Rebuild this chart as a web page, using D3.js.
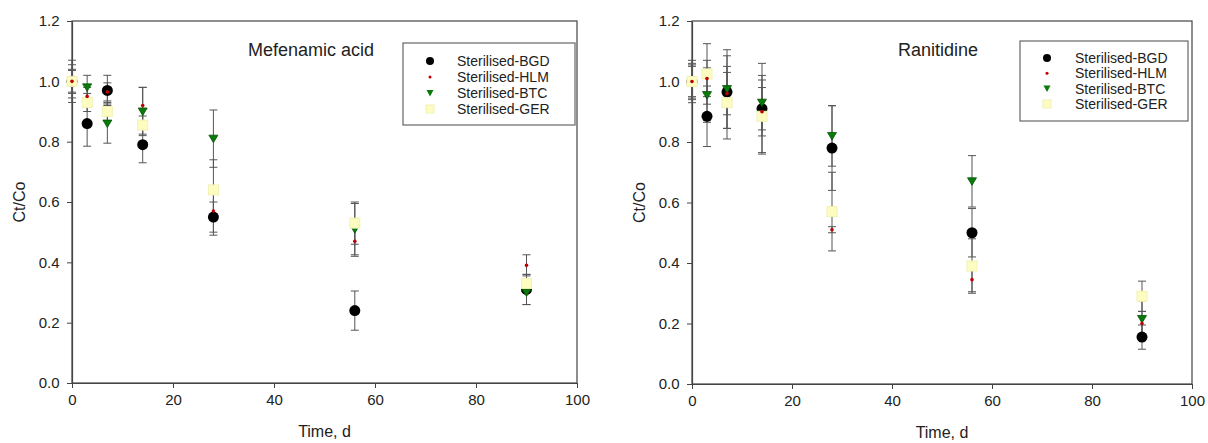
<!DOCTYPE html>
<html>
<head>
<meta charset="utf-8">
<script src="https://cdn.jsdelivr.net/npm/d3@7"></script>
<style>
  body { margin: 0; background: #fff; }
  text { font-family: "Liberation Sans", Arial, sans-serif; fill: #222; }
</style>
</head>
<body>
<script>
// sampling days
let times = [0, 3, 7, 14, 28, 56, 90];

// Mefenamic acid
let mefBGD = [1.0, 0.86, 0.97, 0.79, 0.55, 0.24, 0.31];
let mefBGDerr = [0.07, 0.075, 0.05, 0.06, 0.05, 0.065, 0.05];
let mefHLM = [1.0, 0.95, 0.965, 0.92, 0.57, 0.47, 0.39];
let mefHLMerr = [0.055, 0.03, 0.03, 0.06, 0.08, 0.05, 0.035];
let mefBTC = [1.0, 0.98, 0.86, 0.90, 0.81, 0.51, 0.30];
let mefBTCerr = [0.04, 0.04, 0.065, 0.08, 0.095, 0.085, 0.04];
let mefGER = [1.0, 0.93, 0.90, 0.855, 0.64, 0.53, 0.33];
let mefGERerr = [0.036, 0.03, 0.03, 0.03, 0.1, 0.07, 0.03];

// Ranitidine
let ranBGD = [1.0, 0.885, 0.965, 0.91, 0.78, 0.50, 0.155];
let ranBGDerr = [0.07, 0.1, 0.12, 0.15, 0.14, 0.08, 0.04];
let ranHLM = [1.0, 1.01, 0.96, 0.90, 0.51, 0.345, 0.20];
let ranHLMerr = [0.06, 0.06, 0.07, 0.08, 0.01, 0.04, 0.04];
let ranBTC = [1.0, 0.955, 0.975, 0.93, 0.82, 0.67, 0.215];
let ranBTCerr = [0.055, 0.09, 0.13, 0.09, 0.1, 0.085, 0.06];
let ranGER = [1.0, 1.025, 0.93, 0.885, 0.57, 0.39, 0.29];
let ranGERerr = [0.05, 0.1, 0.12, 0.12, 0.13, 0.09, 0.05];

let seriesNames = ["Sterilised-BGD", "Sterilised-HLM", "Sterilised-BTC", "Sterilised-GER"];
let xTicks = [0, 20, 40, 60, 80, 100];
let yTicks = [0.0, 0.2, 0.4, 0.6, 0.8, 1.0, 1.2];

let w = 1208, h = 443;
let svg = d3.select("body").append("svg").attr("width", w).attr("height", h);

// marker drawing for each series
function drawMarker(g, kind, x, y) {
  if (kind === 0) {
    g.append("circle").attr("cx", x).attr("cy", y).attr("r", 5.5).attr("fill", "#000");
  } else if (kind === 1) {
    g.append("circle").attr("cx", x).attr("cy", y).attr("r", 1.8).attr("fill", "#c00000");
  } else if (kind === 2) {
    g.append("path")
      .attr("d", "M" + (x - 4.5) + "," + (y - 3.5) + "L" + (x + 4.5) + "," + (y - 3.5) + "L" + x + "," + (y + 4) + "Z")
      .attr("fill", "#0a7a0a").attr("stroke", "#045204").attr("stroke-width", 0.8);
  } else {
    g.append("rect").attr("x", x - 5).attr("y", y - 5).attr("width", 10).attr("height", 10)
      .attr("fill", "#fdfdc2").attr("stroke", "#f2f2b4").attr("stroke-width", 1);
  }
}

function drawPanel(p) {
  let x = d3.scaleLinear().domain([0, 100]).range([p.left, p.right]);
  let y = d3.scaleLinear().domain([0, 1.2]).range([p.bottom, p.top]);
  let g = svg.append("g");

  // frame
  g.append("rect").attr("x", p.left).attr("y", p.top)
    .attr("width", p.right - p.left).attr("height", p.bottom - p.top)
    .attr("fill", "none").attr("stroke", "#444").attr("stroke-width", 1.2);

  let xAxis = g.append("g").attr("transform", "translate(0," + p.bottom + ")")
    .call(d3.axisBottom(x).tickValues(xTicks).tickSize(5).tickSizeOuter(0).tickFormat(d3.format("d")));
  let yAxis = g.append("g").attr("transform", "translate(" + p.left + ",0)")
    .call(d3.axisLeft(y).tickValues(yTicks).tickSize(5).tickSizeOuter(0).tickFormat(d3.format(".1f")));
  [xAxis, yAxis].forEach(function(a) {
    a.select(".domain").attr("stroke", "#444").attr("stroke-width", 1.2);
    a.selectAll(".tick line").attr("stroke", "#444");
    a.selectAll(".tick text").style("font-size", "15px").attr("fill", "#222");
  });
  xAxis.selectAll(".tick text").attr("dy", "0.95em");
  yAxis.selectAll(".tick text").attr("dx", "-0.3em");

  // axis labels
  g.append("text").attr("x", (p.left + p.right) / 2).attr("y", p.bottom + 54)
    .attr("text-anchor", "middle").style("font-size", "16px").text("Time, d");
  g.append("text").attr("transform", "translate(" + (p.left - 47) + "," + ((p.top + p.bottom) / 2) + ") rotate(-90)")
    .attr("text-anchor", "middle").style("font-size", "16px").text("Ct/Co");

  // title
  g.append("text").attr("x", p.titleX).attr("y", 56).style("font-size", "18px").text(p.title);

  // error bars
  let cap = 4;
  p.series.forEach(function(s) {
    s.vals.forEach(function(v, i) {
      let cx = x(times[i]);
      let y1 = y(v + s.err[i]), y2 = y(v - s.err[i]);
      g.append("line").attr("x1", cx).attr("x2", cx).attr("y1", y1).attr("y2", y2)
        .attr("stroke", "#555").attr("stroke-width", 1);
      [y1, y2].forEach(function(yy) {
        g.append("line").attr("x1", cx - cap).attr("x2", cx + cap).attr("y1", yy).attr("y2", yy)
          .attr("stroke", "#555").attr("stroke-width", 1);
      });
    });
  });

  // markers (drawn BGD, BTC, GER, HLM)
  [0, 2, 3, 1].forEach(function(k) {
    let s = p.series[k];
    s.vals.forEach(function(v, i) { drawMarker(g, k, x(times[i]), y(v)); });
  });

  // legend
  let lg = svg.append("g");
  lg.append("rect").attr("x", p.legX).attr("y", p.legY).attr("width", p.legW).attr("height", p.legH)
    .attr("fill", "#fff").attr("stroke", "#666").attr("stroke-width", 1.2);
  seriesNames.forEach(function(name, k) {
    let ry = p.legRow0 + k * p.legStep;
    if (k === 0) {
      lg.append("circle").attr("cx", p.legSymX).attr("cy", ry).attr("r", 4).attr("fill", "#000");
    } else if (k === 1) {
      lg.append("circle").attr("cx", p.legSymX).attr("cy", ry).attr("r", 1.5).attr("fill", "#c00000");
    } else if (k === 2) {
      lg.append("path").attr("d", "M" + (p.legSymX - 3.5) + "," + (ry - 3) + "L" + (p.legSymX + 3.5) + "," + (ry - 3) + "L" + p.legSymX + "," + (ry + 3.5) + "Z")
        .attr("fill", "#0a7a0a");
    } else {
      lg.append("rect").attr("x", p.legSymX - 4).attr("y", ry - 4).attr("width", 8).attr("height", 8)
        .attr("fill", "#fdfdc2").attr("stroke", "#f2f2b4");
    }
    lg.append("text").attr("x", p.legTextX).attr("y", ry).attr("dy", "0.35em")
      .style("font-size", "14px").text(name);
  });
}

drawPanel({
  left: 72, right: 577, top: 21, bottom: 383,
  title: "Mefenamic acid", titleX: 248,
  legX: 403, legY: 43, legW: 172, legH: 82,
  legSymX: 430, legTextX: 457, legRow0: 61, legStep: 16,
  series: [
    { vals: mefBGD, err: mefBGDerr },
    { vals: mefHLM, err: mefHLMerr },
    { vals: mefBTC, err: mefBTCerr },
    { vals: mefGER, err: mefGERerr }
  ]
});

drawPanel({
  left: 692, right: 1192, top: 21, bottom: 384,
  title: "Ranitidine", titleX: 898,
  legX: 1020, legY: 41, legW: 168, legH: 80,
  legSymX: 1047, legTextX: 1075, legRow0: 58, legStep: 15.3,
  series: [
    { vals: ranBGD, err: ranBGDerr },
    { vals: ranHLM, err: ranHLMerr },
    { vals: ranBTC, err: ranBTCerr },
    { vals: ranGER, err: ranGERerr }
  ]
});
</script>
</body>
</html>
